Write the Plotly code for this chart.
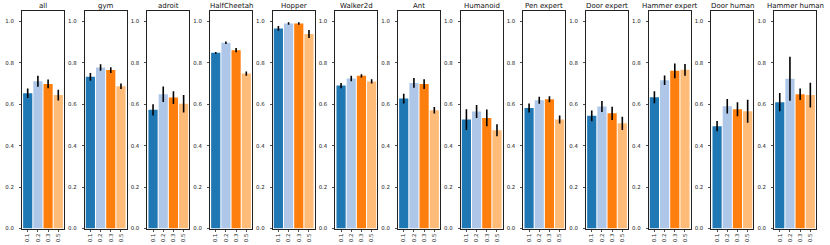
import plotly.graph_objects as go

panels = ["all", "gym", "adroit", "HalfCheetah", "Hopper", "Walker2d", "Ant",
          "Humanoid", "Pen expert", "Door expert", "Hammer expert", "Door human", "Hammer human"]
categories = ["0.1", "0.2", "0.3", "0.5"]
colors = ["#1f77b4", "#aec7e8", "#ff7f0e", "#ffbb78"]

means = [
    [0.653, 0.711, 0.698, 0.644],
    [0.732, 0.777, 0.765, 0.687],
    [0.573, 0.648, 0.632, 0.602],
    [0.848, 0.897, 0.861, 0.748],
    [0.966, 0.990, 0.990, 0.939],
    [0.690, 0.724, 0.737, 0.710],
    [0.627, 0.703, 0.697, 0.571],
    [0.526, 0.565, 0.534, 0.474],
    [0.582, 0.619, 0.624, 0.526],
    [0.544, 0.589, 0.556, 0.508],
    [0.634, 0.716, 0.761, 0.766],
    [0.494, 0.590, 0.576, 0.566],
    [0.610, 0.723, 0.648, 0.644],
]
errors = [
    [0.023, 0.027, 0.021, 0.026],
    [0.019, 0.016, 0.014, 0.013],
    [0.027, 0.037, 0.031, 0.042],
    [0.004, 0.006, 0.010, 0.010],
    [0.011, 0.006, 0.006, 0.019],
    [0.013, 0.013, 0.008, 0.010],
    [0.024, 0.024, 0.023, 0.016],
    [0.050, 0.031, 0.040, 0.029],
    [0.022, 0.017, 0.015, 0.019],
    [0.026, 0.027, 0.032, 0.032],
    [0.029, 0.023, 0.036, 0.028],
    [0.025, 0.035, 0.034, 0.056],
    [0.044, 0.106, 0.028, 0.060],
]
yticks = [0.0, 0.2, 0.4, 0.6, 0.8, 1.0]

W, H = 830, 245
first_left = 22.0
pitch = 62.67
pw = 42.0
y_bottom_px = 228.5
y_top_px = 11.0

fig = go.Figure()
font = "DejaVu Sans"
for i, name in enumerate(panels):
    sfx = "" if i == 0 else str(i + 1)
    fig.add_trace(go.Bar(
        x=categories, y=means[i],
        marker=dict(color=colors, line=dict(width=0)),
        error_y=dict(type="data", array=errors[i], color="black", thickness=1.6, width=0),
        xaxis="x" + sfx, yaxis="y" + sfx, showlegend=False, hoverinfo="skip",
    ))
    left = first_left + i * pitch
    dom_x = [left / W, (left + pw) / W]
    dom_y = [(H - y_bottom_px) / H, (H - y_top_px) / H]
    fig.layout["xaxis" + sfx] = dict(
        domain=dom_x, anchor="y" + sfx, type="category",
        categoryorder="array", categoryarray=categories,
        range=[-0.56, 3.56], tickangle=-90,
        ticks="outside", ticklen=2, tickwidth=0.8, tickcolor="#222",
        tickfont=dict(family=font, size=5.4, color="#222"),
        showline=True, mirror=True, linecolor="#222", linewidth=1,
        showgrid=False, zeroline=False, automargin=False, fixedrange=True,
    )
    fig.layout["yaxis" + sfx] = dict(
        domain=dom_y, anchor="x" + sfx, range=[0, 1.05],
        tickvals=yticks, ticktext=[f"{v:.1f}" for v in yticks],
        ticks="outside", ticklen=2, tickwidth=0.8, tickcolor="#222",
        ticklabelstandoff=4,
        tickfont=dict(family=font, size=5.4, color="#222"),
        showline=True, mirror=True, linecolor="#222", linewidth=1,
        showgrid=False, zeroline=False, automargin=False, fixedrange=True,
    )
    fig.add_annotation(
        text=name, x=(left + pw / 2) / W, y=(H - 5.5) / H,
        xref="paper", yref="paper", showarrow=False,
        xanchor="center", yanchor="middle",
        font=dict(family=font, size=7, color="#111"),
    )

fig.update_layout(
    width=W, height=H, margin=dict(l=0, r=0, t=0, b=0),
    paper_bgcolor="white", plot_bgcolor="white",
    bargap=0.1, showlegend=False,
)
fig.write_html(
    "out.html",
    config={"displayModeBar": False, "staticPlot": True},
    post_script="document.body.style.margin='0';document.body.style.overflow='hidden';",
)
